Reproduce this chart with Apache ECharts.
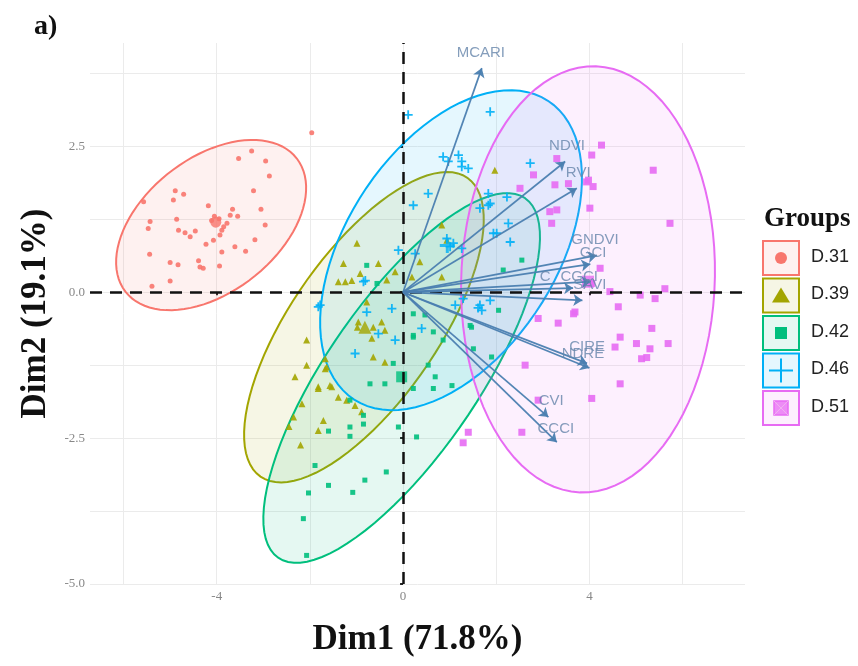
<!DOCTYPE html>
<html>
<head>
<meta charset="UTF-8">
<title>PCA biplot</title>
<script src="https://cdn.jsdelivr.net/npm/echarts@6/dist/echarts.min.js"></script>
<style>
  html, body { margin: 0; padding: 0; background: #fff; }
  #chart { width: 858px; height: 666px; }
</style>
</head>
<body>
<div id="chart"></div>
<script>
// ---- data ----
var groups = ['D.31', 'D.39', 'D.42', 'D.46', 'D.51'];
var colors = ['#F8766D', '#A3A500', '#00BF7D', '#00B0F6', '#E76BF3'];

var d31 = [[-1.96,2.73],[-3.25,2.42],[-3.53,2.29],[-2.95,2.25],[-2.87,1.99],[-3.21,1.74],[-4.89,1.74],[-4.71,1.68],[-4.93,1.58],[-5.57,1.55],[-4.18,1.48],[-3.05,1.42],[-3.66,1.42],[-3.71,1.32],[-3.55,1.30],[-4.86,1.25],[-4.11,1.23],[-3.95,1.26],[-3.78,1.18],[-2.96,1.15],[-5.43,1.21],[-5.47,1.09],[-4.82,1.06],[-4.68,1.02],[-4.46,1.05],[-4.57,0.95],[-3.89,1.06],[-3.93,0.98],[-4.07,0.89],[-4.23,0.82],[-3.18,0.90],[-3.89,0.69],[-3.61,0.78],[-3.38,0.70],[-5.44,0.65],[-5.00,0.51],[-4.83,0.47],[-4.39,0.54],[-4.36,0.43],[-4.29,0.41],[-3.94,0.45],[-5.00,0.19],[-5.39,0.10],[-4.05,1.30],[-3.85,1.12]];
var d39 = [[1.97,2.09],[0.83,1.15],[-0.99,0.84],[-1.28,0.49],[-0.53,0.49],[-0.92,0.32],[-1.39,0.18],[-1.24,0.18],[-0.35,0.21],[-0.17,0.35],[0.94,0.89],[0.83,0.26],[0.36,0.52],[0.19,0.26],[-0.78,-0.17],[-0.96,-0.51],[-0.46,-0.51],[-0.39,-0.65],[-0.67,-0.79],[-0.98,-0.60],[-0.64,-0.60],[-2.07,-0.82],[-1.67,-1.14],[-2.07,-1.25],[-1.64,-1.28],[-0.64,-1.11],[-0.39,-1.20],[-1.57,-1.60],[-1.82,-1.62],[-1.67,-1.31],[-2.32,-1.45],[-1.82,-1.65],[-1.53,-1.62],[-2.17,-1.91],[-2.35,-2.14],[-1.39,-1.80],[-1.21,-1.85],[-1.03,-1.94],[-0.89,-2.05],[-1.71,-2.20],[-1.82,-2.37],[-2.20,-2.62],[-2.45,-2.30],[-1.10,0.20]];
var d42 = [[-0.71,-1.57],[-0.39,-1.57],[0.22,-1.65],[-0.21,-1.22],[-1.14,-2.31],[-1.14,-2.47],[-0.85,-2.26],[-1.60,-2.38],[-0.10,-2.31],[-1.89,-2.97],[-0.36,-3.08],[-0.82,-3.22],[-1.60,-3.31],[-2.03,-3.44],[-1.08,-3.43],[-2.14,-3.88],[-2.07,-4.51],[-1.14,-1.85],[-0.85,-2.11],[-0.78,0.46],[-0.56,0.15],[0.22,-0.77],[0.65,-0.68],[0.47,-0.39],[0.86,-0.82],[1.47,-0.60],[0.54,-1.25],[0.69,-1.45],[1.05,-1.60],[1.51,-0.97],[0.65,-1.65],[2.55,0.55],[2.15,0.38],[2.05,-0.31],[1.44,-0.57],[1.90,-1.11],[0.29,-2.48],[0.22,-0.37],[0.22,-0.74]];
var d46 = [[0.11,3.04],[1.87,3.09],[0.86,2.32],[1.19,2.35],[1.26,2.24],[1.40,2.12],[0.97,2.24],[1.26,2.15],[0.54,1.69],[0.22,1.49],[1.83,1.69],[1.83,1.49],[1.65,1.44],[2.73,2.21],[2.23,1.63],[1.87,1.52],[2.26,1.18],[2.01,1.01],[2.30,0.86],[1.94,1.01],[0.94,0.92],[1.01,0.78],[1.26,0.75],[1.08,0.84],[-0.10,0.72],[0.26,0.66],[-0.85,0.18],[-1.78,-0.22],[-1.82,-0.25],[-0.78,-0.34],[-0.24,-0.28],[-0.53,-0.71],[-0.17,-0.82],[0.40,-0.62],[-1.03,-1.05],[1.29,-0.11],[1.12,-0.22],[1.61,-0.27],[1.65,-0.22],[1.87,-0.14],[1.69,-0.31],[-0.81,0.20]];
var d51 = [[4.26,2.52],[4.05,2.35],[5.37,2.09],[4.08,1.81],[3.98,1.92],[4.01,1.44],[5.73,1.18],[4.23,0.41],[4.05,0.15],[4.44,0.01],[5.09,-0.05],[5.41,-0.11],[5.62,0.06],[4.62,-0.25],[3.69,-0.34],[5.34,-0.62],[4.66,-0.77],[4.55,-0.94],[5.01,-0.88],[5.30,-0.97],[5.69,-0.88],[5.12,-1.14],[5.23,-1.12],[4.66,-1.57],[4.05,-1.82],[3.30,2.29],[2.80,2.01],[3.26,1.84],[3.55,1.86],[3.94,1.89],[2.51,1.78],[3.15,1.38],[3.30,1.41],[3.19,1.18],[3.66,-0.37],[2.90,-0.45],[3.33,-0.53],[2.62,-1.25],[1.40,-2.40],[1.29,-2.58],[2.55,-2.40],[2.90,-1.85]];
var groupPoints = [d31, d39, d42, d46, d51];

// group means (drawn larger)
var groupMeans = [[-4.02,1.20],[-0.82,-0.60],[-0.03,-1.45],[0.95,0.80],[3.97,0.18]];

// concentration ellipses: centre (cx, cy), semi-axis vectors u and v
var ellipses = [
  [-4.12, 1.15, 1.84, 1.14, -0.88, 0.91],
  [-0.84, -0.60, 2.22, 2.56, -1.30, 0.72],
  [-0.03, -1.47, 2.65, 3.08, -1.34, 0.74],
  [1.03, 0.72, 2.08, 2.56, -1.89, 0.98],
  [3.97, 0.22, 0.17, 3.65, -2.72, 0.08]
];

// variable arrows (tips) and their labels
var varNames = ['MCARI','NDVI','RVI','GNDVI','GCI','C','CGCI','SAVI','CIRE','NDRE','CVI','CCCI'];
var varX = [1.69, 3.48, 3.73, 4.16, 4.02, 4.03, 3.65, 3.85, 3.95, 4.00, 3.12, 3.30];
var varY = [3.84, 2.24, 1.78, 0.63, 0.48, 0.18, 0.07, -0.14, -1.22, -1.30, -2.14, -2.57];
var labelX = [1.67, 3.52, 3.76, 4.12, 4.08, 3.05, 3.78, 4.01, 3.95, 3.86, 3.18, 3.28];
var labelY = [4.10, 2.50, 2.04, 0.89, 0.67, 0.26, 0.27, 0.12, -0.94, -1.05, -1.87, -2.35];

var xLabels = [-4, 0, 4];
var yLabels = [-5, -2.5, 0, 2.5];
var xGrid = [-6, -4, -2, 0, 2, 4, 6];
var yGrid = [-5, -3.75, -2.5, -1.25, 0, 1.25, 2.5, 3.75];

var xMin = -6.72, xMax = 7.34, yMin = -5.0, yMax = 4.27;

// ---- drawing ----
var plusPath = 'path://M4,0H6V4H10V6H6V10H4V6H0V4H4Z';
var symbols = ['circle', 'triangle', 'rect', plusPath, 'rect'];
var sizes = [5, 7, 5, 9, 7];
var meanSizes = [11, 13, 11, 15, 12];

function rgba(hex, a) {
  var n = parseInt(hex.slice(1), 16);
  return 'rgba(' + (n >> 16) + ',' + ((n >> 8) & 255) + ',' + (n & 255) + ',' + a + ')';
}

var series = [];

// ellipses
ellipses.forEach(function (e, i) {
  series.push({
    type: 'custom',
    name: groups[i] + ' ellipse',
    silent: true,
    clip: true,
    z: 1,
    data: [e],
    renderItem: function (params, api) {
      var pts = [];
      for (var k = 0; k <= 90; k++) {
        var t = k / 90 * Math.PI * 2;
        pts.push(api.coord([
          e[0] + e[2] * Math.cos(t) + e[4] * Math.sin(t),
          e[1] + e[3] * Math.cos(t) + e[5] * Math.sin(t)
        ]));
      }
      return {
        type: 'polygon',
        shape: { points: pts },
        style: { fill: rgba(colors[i], 0.1), stroke: colors[i], lineWidth: 2 }
      };
    }
  });
});

// points + means
groupPoints.forEach(function (pts, i) {
  series.push({
    type: 'scatter',
    name: groups[i],
    z: 3,
    symbol: symbols[i],
    symbolSize: sizes[i],
    itemStyle: { color: colors[i], opacity: 0.9 },
    data: pts
  });
  series.push({
    type: 'scatter',
    name: groups[i] + ' mean',
    z: 3,
    symbol: symbols[i],
    symbolSize: meanSizes[i],
    itemStyle: { color: colors[i] },
    data: [groupMeans[i]]
  });
});

// zero lines
series.push({
  type: 'scatter',
  data: [],
  markLine: {
    silent: true,
    symbol: 'none',
    label: { show: false },
    lineStyle: { color: '#111', width: 2.5, type: [12, 8] },
    data: [{ xAxis: 0 }, { yAxis: 0 }]
  },
  z: 4
});

// arrows
series.push({
  type: 'lines',
  coordinateSystem: 'cartesian2d',
  z: 5,
  symbol: ['none', 'arrow'],
  symbolSize: 9,
  lineStyle: { color: '#4a7eb0', width: 1.7, opacity: 0.95 },
  data: varNames.map(function (n, i) {
    return { name: n, coords: [[0, 0], [varX[i], varY[i]]] };
  })
});

// arrow labels
series.push({
  type: 'scatter',
  z: 6,
  symbolSize: 0,
  label: {
    show: true,
    position: 'inside',
    formatter: '{b}',
    color: '#6585aa',
    fontSize: 15,
    fontFamily: 'Liberation Sans'
  },
  data: varNames.map(function (n, i) {
    return { name: n, value: [labelX[i], labelY[i]] };
  })
});

// legend drawn as graphics
var legendEls = [{
  type: 'text', left: 764, top: 206,
  style: { text: 'Groups', font: 'bold 27px "Liberation Serif"', fill: '#111' }
}];
groups.forEach(function (g, i) {
  var top = 241 + i * 37.5, cx = 781, cy = top + 17, c = colors[i];
  legendEls.push({
    type: 'rect', shape: { x: 763, y: top, width: 36, height: 34 },
    style: { fill: rgba(c, 0.1), stroke: c, lineWidth: 2 }
  });
  if (i === 0) {
    legendEls.push({ type: 'circle', shape: { cx: cx, cy: cy, r: 6 }, style: { fill: c } });
  } else if (i === 1) {
    legendEls.push({ type: 'polygon', shape: { points: [[cx, cy - 8], [cx + 9, cy + 7], [cx - 9, cy + 7]] }, style: { fill: c } });
  } else if (i === 2) {
    legendEls.push({ type: 'rect', shape: { x: cx - 6, y: cy - 6, width: 12, height: 12 }, style: { fill: c } });
  } else if (i === 3) {
    legendEls.push({ type: 'line', shape: { x1: cx - 12, y1: cy, x2: cx + 12, y2: cy }, style: { stroke: c, lineWidth: 2 } });
    legendEls.push({ type: 'line', shape: { x1: cx, y1: cy - 12, x2: cx, y2: cy + 12 }, style: { stroke: c, lineWidth: 2 } });
  } else {
    legendEls.push({ type: 'rect', shape: { x: cx - 7, y: cy - 7, width: 14, height: 14 }, style: { fill: rgba(c, 0.75), stroke: c, lineWidth: 1.5 } });
    legendEls.push({ type: 'line', shape: { x1: cx - 7, y1: cy - 7, x2: cx + 7, y2: cy + 7 }, style: { stroke: '#f0b0f0', lineWidth: 1 } });
    legendEls.push({ type: 'line', shape: { x1: cx + 7, y1: cy - 7, x2: cx - 7, y2: cy + 7 }, style: { stroke: '#f0b0f0', lineWidth: 1 } });
  }
  legendEls.push({
    type: 'text', left: 811, top: cy - 10,
    style: { text: g, font: '18px "Liberation Sans"', fill: '#222' }
  });
});
legendEls.push({
  type: 'text', left: 34, top: 13,
  style: { text: 'a)', font: 'bold 28px "Liberation Serif"', fill: '#111' }
});

var tickLabelStyle = { color: '#888', fontSize: 13, fontFamily: 'Liberation Serif' };
var axisNameStyle = { fontFamily: 'Liberation Serif', fontWeight: 'bold', fontSize: 35, color: '#111' };

var option = {
  animation: false,
  backgroundColor: '#fff',
  grid: { left: 90, right: 113, top: 43, bottom: 82 },
  xAxis: [{
    type: 'value', min: xMin, max: xMax,
    name: 'Dim1 (71.8%)', nameLocation: 'middle', nameGap: 38, nameTextStyle: axisNameStyle,
    axisLine: { show: false },
    axisTick: { show: true, length: 3, lineStyle: { color: '#222', width: 2 }, customValues: xLabels },
    axisLabel: Object.assign({ customValues: xLabels, margin: 6 }, tickLabelStyle),
    splitLine: { show: false }
  }, {
    type: 'value', min: xMin, max: xMax, position: 'bottom',
    axisLine: { show: false }, axisLabel: { show: false },
    axisTick: { show: false, customValues: xGrid },
    splitLine: { show: true, lineStyle: { color: '#ebebeb', width: 1 } }
  }],
  yAxis: [{
    type: 'value', min: yMin, max: yMax,
    name: 'Dim2 (19.1%)', nameLocation: 'middle', nameGap: 34, nameRotate: 90, nameTextStyle: axisNameStyle,
    axisLine: { show: false },
    axisTick: { show: true, length: 3, lineStyle: { color: '#222', width: 2 }, customValues: yLabels },
    axisLabel: Object.assign({
      customValues: yLabels, margin: 5,
      formatter: function (v) { return v.toFixed(1); }
    }, tickLabelStyle),
    splitLine: { show: false }
  }, {
    type: 'value', min: yMin, max: yMax, position: 'left',
    axisLine: { show: false }, axisLabel: { show: false },
    axisTick: { show: false, customValues: yGrid },
    splitLine: { show: true, lineStyle: { color: '#ebebeb', width: 1 } }
  }],
  graphic: legendEls,
  series: series
};

var chart = echarts.init(document.getElementById('chart'));
chart.setOption(option);
</script>
</body>
</html>
